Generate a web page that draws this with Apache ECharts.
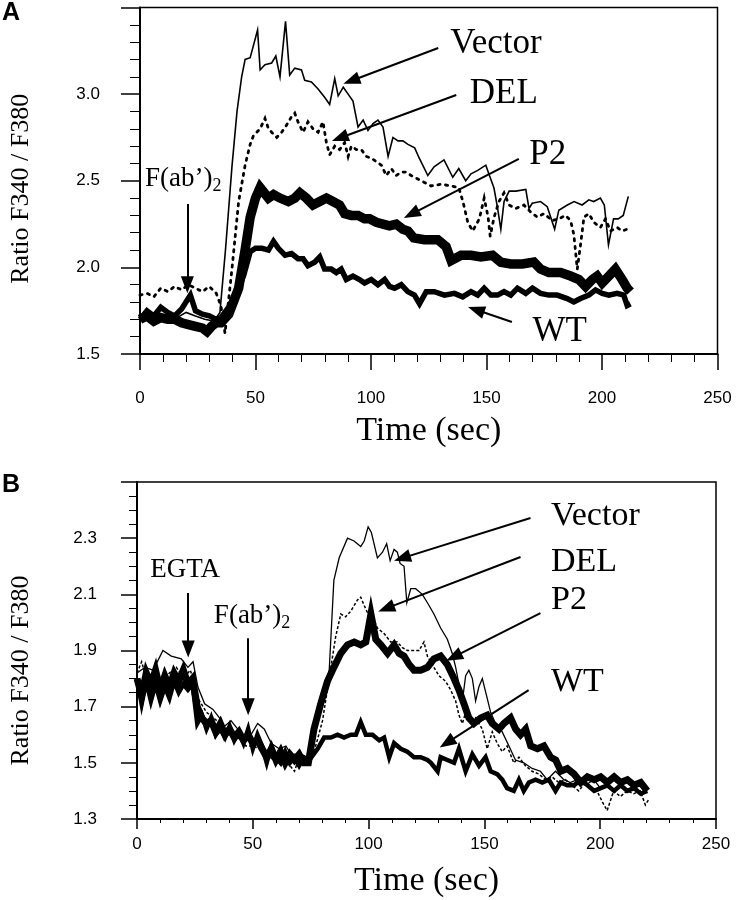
<!DOCTYPE html>
<html><head><meta charset="utf-8">
<script src="https://cdn.jsdelivr.net/npm/echarts@6/dist/echarts.min.js"></script>
<style>html,body{margin:0;padding:0;background:#fff}#chart{width:738px;height:900px}</style>
</head><body><div id="chart"></div>
<script>
// ---------- Panel A data: [time (sec), ratio] ----------
const aVector = [[0,1.70],[4,1.72],[8,1.69],[12,1.73],[16,1.71],[20,1.74],[24,1.72],[28,1.70],[32,1.69],[34.6,1.74],[37,2.10],[39.8,2.58],[42,2.90],[44,3.10],[45.5,3.20],[47.7,3.21],[50.9,3.37],[52,3.14],[54.1,3.17],[57,3.18],[58.8,3.22],[60.6,3.10],[63,3.42],[64.8,3.11],[67,3.15],[69.9,3.14],[71.3,3.08],[74.2,3.07],[77.1,3.03],[80,2.98],[82.1,2.94],[84.3,3.09],[85.8,2.99],[88,3.04],[90.1,3.00],[92.2,2.96],[94.4,2.81],[96.6,2.85],[98.7,2.79],[100.9,2.83],[103,2.85],[105.2,2.81],[107.4,2.64],[109.5,2.75],[111.7,2.73],[113.8,2.73],[116,2.71],[118.9,2.69],[120.9,2.63],[124.6,2.53],[127.3,2.58],[131.6,2.62],[135.4,2.52],[138,2.57],[141,2.50],[143.3,2.54],[146.2,2.56],[149.7,2.59],[151,2.54],[153.2,2.46],[154.7,2.35],[156.2,2.22],[157.6,2.38],[159.8,2.44],[162.7,2.44],[167,2.45],[168.4,2.34],[169.8,2.37],[173.4,2.38],[176.3,2.35],[179.5,2.22],[181.3,2.33],[185,2.36],[187.9,2.38],[191.4,2.36],[194.3,2.39],[196.4,2.38],[199.3,2.40],[201,2.36],[202.8,2.13],[205,2.28],[207,2.28],[209.2,2.30],[211.4,2.41]];
const aDEL = [[0,1.84],[3,1.85],[6,1.83],[9,1.88],[12,1.86],[15,1.89],[18,1.87],[21,1.90],[24,1.88],[27,1.86],[30,1.89],[33,1.85],[35,1.78],[36.8,1.62],[39.8,1.99],[42.7,2.38],[45.5,2.59],[47.7,2.71],[49.1,2.76],[52,2.80],[54.1,2.86],[55.6,2.80],[57,2.78],[59.2,2.75],[61.3,2.78],[63.4,2.82],[65.6,2.87],[67,2.89],[68.4,2.84],[70.6,2.78],[72.7,2.84],[74.9,2.80],[77.1,2.78],[79.2,2.84],[80.7,2.72],[82.1,2.65],[84.3,2.70],[86.4,2.68],[88.6,2.72],[90.1,2.64],[91.5,2.70],[93.7,2.68],[95.8,2.68],[98,2.64],[100.2,2.63],[102.3,2.61],[104.5,2.59],[106.6,2.53],[108.8,2.57],[110.9,2.53],[113.1,2.55],[115.2,2.55],[117.4,2.53],[120.3,2.51],[123.1,2.49],[126,2.47],[130.3,2.48],[134.6,2.47],[138,2.46],[139.8,2.38],[141.9,2.26],[144,2.21],[146.9,2.28],[149,2.40],[150.7,2.29],[151.6,2.18],[153.3,2.29],[155.4,2.38],[157.6,2.43],[159.8,2.36],[162.6,2.34],[166.2,2.36],[169.1,2.32],[172,2.29],[174.9,2.31],[178.5,2.27],[181.3,2.28],[184.2,2.30],[186.4,2.27],[187.8,2.19],[189.3,1.99],[190.7,2.13],[192.2,2.29],[194.3,2.31],[196.5,2.26],[199.3,2.23],[201.5,2.28],[203.7,2.21],[206.6,2.23],[208.7,2.21],[210.9,2.22]];
const aP2 = [[0,1.70],[3,1.72],[6,1.69],[9,1.71],[12,1.70],[15,1.70],[18,1.68],[21,1.67],[24,1.66],[27,1.65],[29,1.63],[31,1.66],[33,1.68],[35,1.68],[38.4,1.73],[42.7,1.88],[45.5,2.10],[47.7,2.29],[50,2.40],[52,2.46],[55.6,2.40],[57.8,2.42],[60.6,2.40],[64.2,2.38],[67,2.40],[69.2,2.43],[72,2.40],[74.9,2.36],[77.8,2.38],[80.7,2.40],[83.5,2.38],[86.4,2.36],[88.6,2.31],[91.5,2.30],[94.4,2.30],[97.2,2.28],[99.4,2.28],[102.3,2.26],[105.2,2.25],[108,2.24],[110.9,2.25],[113.8,2.22],[116,2.21],[118.5,2.17],[123.1,2.16],[128.9,2.16],[132.5,2.12],[134.7,2.04],[139,2.07],[143.3,2.07],[147.6,2.06],[152.6,2.07],[156.2,2.03],[160.5,2.02],[165.5,2.02],[170.5,2.03],[173.4,1.99],[177,1.97],[182.1,1.97],[186.4,1.95],[190,1.93],[192.9,1.89],[195.8,1.93],[197.9,1.95],[200.1,1.91],[203,1.95],[205.8,1.99],[208.7,1.93],[210.9,1.88],[212.3,1.86]];
const aWT = [[0,1.70],[3,1.75],[6,1.72],[9,1.77],[12,1.74],[15,1.72],[18,1.76],[21.8,1.84],[24,1.75],[27,1.73],[30,1.72],[33,1.70],[35,1.71],[38.4,1.77],[41.9,1.86],[44.8,1.95],[47.7,2.09],[50,2.11],[52.8,2.11],[55.6,2.10],[57.8,2.15],[59.9,2.11],[62.8,2.07],[65.6,2.08],[68.4,2.05],[70.6,2.05],[72.7,2.01],[75.6,2.03],[77.8,2.06],[79.9,1.99],[82.8,1.99],[85,1.97],[87.1,1.99],[89.3,1.93],[92.2,1.95],[95,1.93],[97.2,1.91],[100.1,1.93],[103,1.90],[105.9,1.93],[108,1.89],[110.2,1.88],[113.1,1.90],[115.9,1.86],[118.8,1.84],[121,1.79],[123.9,1.86],[127.4,1.86],[131.8,1.84],[136.1,1.85],[139.7,1.83],[143.3,1.86],[146.2,1.84],[149,1.88],[151.9,1.84],[154.8,1.84],[157.6,1.86],[160.5,1.84],[163.4,1.88],[167,1.85],[169.9,1.88],[173.4,1.85],[177,1.84],[180.6,1.84],[184.9,1.82],[187.8,1.80],[190.7,1.82],[194.3,1.84],[197.2,1.87],[200.1,1.85],[203,1.84],[206.5,1.85],[209.4,1.84],[210.9,1.78],[212.3,1.79]];

// ---------- Panel B data ----------
const bVector = [[0,1.82],[3.4,1.84],[7,1.83],[11.2,1.90],[14.8,1.88],[19.1,1.87],[22,1.84],[24.2,1.86],[26.3,1.77],[29.2,1.71],[32.8,1.69],[35.6,1.66],[37.8,1.63],[40.6,1.65],[43.5,1.62],[46.3,1.59],[49.2,1.60],[52.1,1.64],[55,1.62],[57.9,1.57],[61.4,1.55],[64.3,1.56],[66.5,1.53],[69.3,1.53],[72.2,1.51],[74.4,1.51],[77.2,1.61],[80.1,1.72],[83,1.83],[85,2.15],[87.3,2.23],[90.9,2.30],[93.7,2.29],[96.6,2.27],[98.1,2.29],[99.8,2.34],[101.2,2.32],[103.8,2.23],[106,2.25],[107.8,2.28],[109.3,2.22],[111,2.26],[112.4,2.25],[113.6,2.21],[115.3,2.20],[116.5,2.07],[118.2,2.12],[120.3,2.12],[123.2,2.10],[125.4,2.07],[128.2,2.03],[131.1,1.98],[134,1.94],[136.1,1.89],[137.6,1.84],[139,1.78],[140.5,1.72],[141.9,1.81],[143.3,1.83],[144.8,1.80],[146.2,1.72],[147.6,1.77],[149.1,1.80],[150.9,1.74],[152.7,1.68],[154.8,1.64],[157.7,1.61],[160.6,1.56],[163.4,1.51],[167,1.50],[170.6,1.48],[174.2,1.47],[177.1,1.44],[180.7,1.47],[184.3,1.44],[187.1,1.43],[190,1.44],[193.6,1.42],[197.2,1.44],[200.1,1.41],[203,1.42],[205.8,1.44],[208.7,1.42],[211.6,1.43],[214.5,1.41],[217.3,1.42],[220.2,1.40]];
const bDEL = [[0,1.82],[2,1.86],[4,1.80],[6,1.78],[8,1.83],[10,1.76],[12,1.80],[14,1.82],[17,1.84],[20,1.80],[23,1.83],[25,1.78],[27,1.72],[30,1.68],[33,1.66],[36,1.64],[39,1.62],[42,1.60],[45,1.58],[47,1.56],[50,1.56],[53,1.55],[56,1.53],[59,1.51],[62,1.52],[65,1.50],[68,1.47],[70,1.52],[72,1.50],[75,1.51],[77.5,1.57],[80.1,1.65],[83.7,1.84],[85.8,1.95],[88,2.03],[90.1,2.02],[92.3,2.04],[95.2,2.08],[96.6,2.09],[98.1,2.06],[99.8,2.03],[101.7,2.02],[103.8,1.98],[106.7,1.96],[109.6,1.93],[112.4,1.93],[114.6,1.91],[116.7,1.90],[119.6,1.90],[121.8,1.90],[123.9,1.93],[125.4,1.88],[128.2,1.84],[130.4,1.81],[133.3,1.79],[135.4,1.76],[137.6,1.72],[139,1.67],[140.5,1.64],[141.9,1.68],[143.3,1.66],[144.8,1.64],[146.2,1.66],[149.1,1.62],[151.2,1.55],[153.4,1.61],[155.5,1.57],[157.7,1.54],[159.8,1.56],[162.7,1.50],[164.9,1.52],[167.7,1.49],[170.6,1.47],[173.5,1.46],[176.4,1.44],[179.2,1.45],[182.1,1.43],[185,1.44],[187.8,1.42],[190.7,1.40],[193.6,1.43],[196.5,1.41],[198.6,1.40],[201,1.36],[203,1.33],[205.8,1.40],[208.7,1.38],[211.6,1.40],[214.5,1.39],[217.3,1.40],[219.5,1.35],[221,1.37]];
const bP2 = [[0,1.80],[2,1.74],[4,1.82],[6,1.78],[8,1.83],[10,1.76],[12,1.81],[14,1.77],[16,1.82],[18,1.79],[20,1.83],[22,1.78],[24,1.80],[26,1.70],[28,1.66],[30,1.64],[32,1.65],[34,1.61],[36,1.64],[38,1.60],[40,1.62],[42,1.59],[44,1.61],[46,1.58],[48,1.60],[50,1.57],[52,1.58],[54,1.55],[56,1.52],[58,1.55],[60,1.51],[62,1.54],[64,1.50],[66,1.53],[68,1.51],[70,1.53],[72,1.50],[74,1.50],[76.4,1.62],[79.3,1.71],[82.2,1.79],[85,1.84],[88,1.89],[90.9,1.92],[93.8,1.93],[96.6,1.92],[98.8,1.93],[101,2.03],[103.1,1.94],[105.3,1.92],[108.2,1.89],[111,1.92],[113.2,1.89],[115.3,1.88],[117.5,1.85],[119.6,1.83],[122.5,1.83],[125.4,1.84],[128.2,1.87],[131.1,1.88],[134,1.85],[136.9,1.80],[139,1.76],[141.2,1.71],[143.3,1.66],[145.5,1.64],[148.4,1.66],[151.2,1.67],[153.4,1.64],[156.3,1.62],[158.4,1.64],[161.3,1.66],[163.5,1.62],[165.6,1.60],[167.8,1.62],[170,1.56],[172.9,1.55],[175.7,1.56],[178.6,1.52],[180.8,1.51],[183,1.47],[185.8,1.48],[188.7,1.46],[191.6,1.43],[194.5,1.45],[197.4,1.44],[200.2,1.45],[203.1,1.43],[206,1.45],[208.8,1.43],[211.7,1.44],[214.6,1.42],[217.5,1.43],[220.3,1.40]];
const bWT = [[0,1.80],[2,1.71],[4,1.79],[6,1.72],[8,1.78],[10,1.72],[12,1.77],[14,1.73],[16,1.79],[18,1.75],[20,1.78],[22,1.76],[24,1.78],[26,1.64],[28,1.67],[30,1.62],[32,1.66],[34,1.60],[36,1.62],[38,1.59],[40,1.63],[42,1.58],[44,1.61],[46,1.57],[48,1.62],[50,1.55],[52,1.60],[54,1.56],[56,1.50],[58,1.56],[60,1.52],[62,1.50],[64,1.54],[66,1.50],[68,1.52],[70,1.49],[72,1.52],[74.4,1.51],[78,1.55],[80.8,1.59],[83.7,1.59],[86.6,1.60],[89.4,1.59],[92.3,1.60],[94.5,1.60],[96.6,1.645],[98.8,1.60],[101.7,1.60],[104.6,1.58],[106.7,1.59],[108.9,1.52],[111,1.57],[113.9,1.55],[116.7,1.54],[119.6,1.52],[122.5,1.52],[125.4,1.51],[126.9,1.50],[129.8,1.47],[131.1,1.52],[134,1.51],[136.9,1.50],[139,1.55],[141.9,1.47],[144.8,1.53],[147.7,1.49],[150.5,1.52],[152.7,1.47],[155.5,1.46],[157.7,1.44],[159.8,1.41],[162.7,1.40],[164.9,1.44],[167,1.40],[169.2,1.43],[172.1,1.44],[175,1.43],[177.8,1.44],[180.7,1.40],[182.9,1.43],[185.8,1.42],[188.7,1.42],[191.6,1.44],[194.5,1.42],[197.4,1.40],[200.2,1.41],[203.1,1.42],[206,1.40],[208.8,1.42],[211.7,1.40],[214.6,1.41],[217.5,1.39],[220.3,1.40]];

// ---------- Axis settings ----------
const xTicks = [0, 50, 100, 150, 200, 250];
const aYRange = [1.5, 3.5, 0.5];
const bYRange = [1.3, 2.5, 0.2];

// ---------- Annotations (data coordinates) ----------
const aLabels = [['Vector',154.1,3.289,'center'],['DEL',157.5,3.001,'center'],['P2',176.5,2.649,'center'],['WT',181.7,1.627,'center']];
const aStim = [['F(ab’)',18.75,2.504]];
const aArrows = [[20.5,2.366,20.5,1.90],[129.1,3.266,91.5,3.077],[136.9,2.995,86.5,2.747],[164,2.626,117.5,2.307],[161,1.685,145.5,1.755]];
const bLabels = [['Vector',179.4,2.379,'left'],['DEL',179.4,2.215,'left'],['P2',179.4,2.080,'left'],['WT',179.4,1.788,'left']];
const bStim = [['EGTA',20.8,2.187],['F(ab’)',49.7,2.019]];
const bArrows = [[22.1,2.105,22.1,1.905],[48,1.944,48,1.70],[169.9,2.372,114.5,2.229],[165.6,2.233,107.6,2.050],[174.2,2.033,136.8,1.877],[169.1,1.759,133.8,1.571]];

const SERIF = 'Liberation Serif, Times New Roman, serif';
const SANS = 'Liberation Sans, Arial, sans-serif';

function xAxisCfg(gi, tickLen, minorLen, margin, nameGap) {
  return {
    gridIndex: gi, type: 'value', min: xTicks[0], max: xTicks[xTicks.length-1], interval: xTicks[1]-xTicks[0],
    axisLine: {show: true, lineStyle: {color: '#000', width: 2}},
    axisTick: {show: true, length: tickLen, lineStyle: {color: '#000', width: 1.5}},
    minorTick: {show: true, splitNumber: 5, length: minorLen, lineStyle: {color: '#000', width: 1}},
    splitLine: {show: false},
    axisLabel: {color: '#000', fontSize: 17, fontFamily: SANS, margin: margin},
    name: 'Time (sec)', nameLocation: 'middle', nameGap: nameGap,
    nameTextStyle: {fontFamily: SERIF, fontSize: 34, color: '#000'}
  };
}
function yAxisCfg(gi, r, minorSplit, tickLen, minorLen, nameGap, pad) {
  return {
    gridIndex: gi, type: 'value', min: r[0], max: r[1], interval: r[2],
    axisLine: {show: true, lineStyle: {color: '#000', width: 2}},
    axisTick: {show: true, length: tickLen, lineStyle: {color: '#000', width: 1.5}},
    minorTick: {show: true, splitNumber: minorSplit, length: minorLen, lineStyle: {color: '#000', width: 1}},
    splitLine: {show: false},
    axisLabel: {color: '#000', fontSize: 17, fontFamily: SANS, margin: 40,
      formatter: v => (Math.abs(v - r[1]) < 1e-9 ? '' : v.toFixed(1))},
    name: 'Ratio F340 / F380', nameLocation: 'middle', nameGap: nameGap, nameRotate: 90,
    nameTextStyle: {fontFamily: SERIF, fontSize: 26, color: '#000', padding: [0, pad, 0, 0]}
  };
}

function lineSeries(name, gi, data, width, type, z, cap) {
  return {
    name: name, type: 'line', xAxisIndex: gi, yAxisIndex: gi, data: data,
    showSymbol: false, symbol: 'none', smooth: false, z: z, animation: false,
    lineStyle: {color: '#000', width: width, type: type, cap: cap || 'butt', join: 'miter'}
  };
}

function markLineCfg(arrows) {
  return {
    silent: true, animation: false, symbol: ['none', 'triangle'], symbolSize: [13, 17],
    lineStyle: {color: '#000', width: 2, type: 'solid'}, label: {show: false},
    itemStyle: {color: '#000'},
    data: arrows.map(a => [{coord: [a[0], a[1]]}, {coord: [a[2], a[3]]}])
  };
}
function markPointCfg(labels, stim, fsMain) {
  const pts = labels.map(l => ({
    coord: [l[1], l[2]], value: l[0],
    label: {show: true, position: l[3] === 'left' ? 'right' : 'inside', distance: 0, formatter: l[0], fontFamily: SERIF, fontSize: fsMain, color: '#000', offset: l[3] === 'left' ? [-2, 0] : [0, 0]}
  }));
  stim.forEach(s => {
    const isF = s[0].indexOf('F(') === 0;
    pts.push({
      coord: [s[1], s[2]], value: s[0],
      label: isF ? {
        show: true, position: 'inside', formatter: '{m|' + s[0] + '}{s|2}',
        rich: {m: {fontFamily: SERIF, fontSize: 27, color: '#000', lineHeight: 30, verticalAlign: 'top'},
               s: {fontFamily: SERIF, fontSize: 18, color: '#000', lineHeight: 18, verticalAlign: 'bottom'}}
      } : {show: true, position: 'inside', formatter: s[0], fontFamily: SERIF, fontSize: 27, color: '#000'}
    });
  });
  return {
    silent: true, animation: false, symbol: 'rect', symbolSize: 1,
    itemStyle: {color: 'rgba(0,0,0,0)'}, data: pts
  };
}

const chart = echarts.init(document.getElementById('chart'), null, {renderer: 'canvas'});
const option = {
  animation: false,
  backgroundColor: '#fff',
  grid: [
    {left: 137.5, top: 7.5, width: 580, height: 346.5, show: true, borderColor: '#000', borderWidth: 1.5, backgroundColor: 'transparent'},
    {left: 135.7, top: 482, width: 580.3, height: 337, show: true, borderColor: '#000', borderWidth: 1.5, backgroundColor: 'transparent'}
  ],
  xAxis: [xAxisCfg(0, 16, 8, 36, 60), xAxisCfg(1, 10, 4, 17, 45)],
  yAxis: [yAxisCfg(0, aYRange, 5, 19, 10, 106, 16), yAxisCfg(1, bYRange, 4, 16, 8, 103, 40)],
  graphic: [
    {type: 'text', left: 2, top: 1, style: {text: 'A', font: 'bold 25px Liberation Sans, Arial, sans-serif', fill: '#000'}},
    {type: 'text', left: 2, top: 473, style: {text: 'B', font: 'bold 25px Liberation Sans, Arial, sans-serif', fill: '#000'}}
  ],
  series: [
    lineSeries('P2', 0, aP2, 9.5, 'solid', 2),
    lineSeries('WT', 0, aWT, 5.5, 'solid', 3),
    lineSeries('Vector', 0, aVector, 1.6, 'solid', 4),
    Object.assign(lineSeries('DEL', 0, aDEL, 2.8, [2.2, 5.5], 5, 'round'), {markLine: markLineCfg(aArrows), markPoint: markPointCfg(aLabels, aStim, 35)}),
    lineSeries('P2', 1, bP2, 7, 'solid', 2),
    lineSeries('WT', 1, bWT, 4.5, 'solid', 3),
    lineSeries('Vector', 1, bVector, 1.3, 'solid', 4),
    Object.assign(lineSeries('DEL', 1, bDEL, 1.5, [3, 2], 5), {markLine: markLineCfg(bArrows), markPoint: markPointCfg(bLabels, bStim, 34)})
  ]
};
chart.setOption(option);
</script></body></html>
